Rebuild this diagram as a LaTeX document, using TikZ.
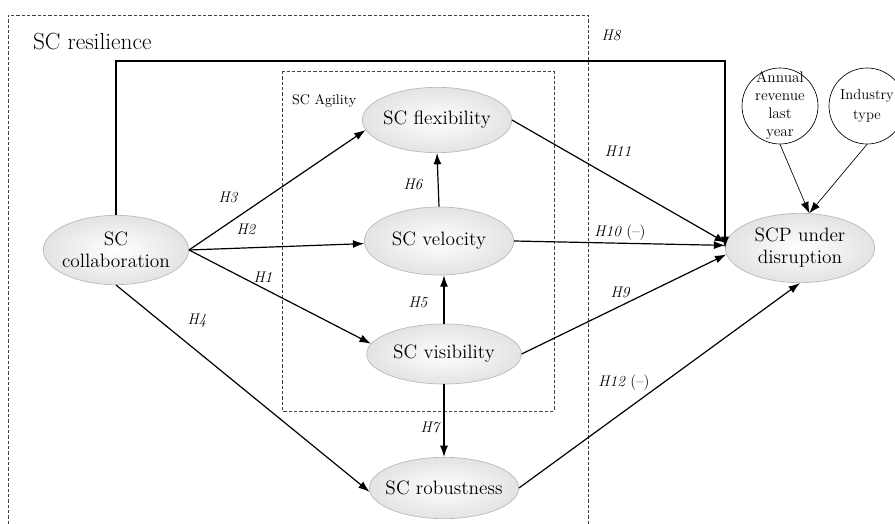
\documentclass[tikz,border=0pt]{standalone}
\usetikzlibrary{shapes.geometric,arrows.meta}
\begin{document}
\begin{tikzpicture}[->,>={Latex[length=8.5pt,width=6pt]},line width=0.9pt,x=0.75pt,y=-0.75pt]
    \tikzstyle{construct}=[ellipse,draw=gray!55,line width=0.5pt,inner color=white,outer color=gray!22,minimum width=112pt,minimum height=49pt,inner sep=0pt]
    \tikzstyle{control}=[circle,draw,line width=0.5pt,minimum size=57pt,inner sep=0pt]
    \tikzstyle{every label}=[align=center,font=\fontsize{14.5}{16.5}\selectfont]
    \tikzstyle{hyp}=[font=\fontsize{11.5}{13}\selectfont\itshape]
    \tikzstyle{frame}=[-,draw=black!75,line width=0.5pt,dash pattern=on 2.5pt off 1.5pt]

    \useasboundingbox (0,0) rectangle (895,524);

    % resilience and agility frames
    \draw[frame] (8,540) -- (8,15) -- (588,15) -- (588,540);
    \draw[frame] (282,71) rectangle (554,411);
    \node[anchor=west,font=\fontsize{17.5}{20}\selectfont] (res) at (28,42) {SC resilience};
    \node[anchor=west,font=\fontsize{10.5}{12}\selectfont] (agi) at (287,101) {SC Agility};

    \node[construct,minimum width=109pt,minimum height=52pt,label={center:SC\\collaboration}] (col) at (116,250) {};
    \node[construct,label=center:SC flexibility] (flex) at (437,120) {};
    \node[construct,minimum height=51pt,label=center:SC velocity] (velo) at (439,241) {};
    \node[construct,minimum width=116pt,minimum height=45pt,label=center:SC visibility] (visi) at (444,354) {};
    \node[construct,minimum height=46pt,label=center:SC robustness] (robu) at (444,488) {};
    \node[construct,minimum height=52pt,label={center:SCP under\\disruption}] (scp) at (800,248) {};

    % controls
    \node[control,label={[font=\fontsize{11.5}{13.5}\selectfont]center:Annual\\revenue\\last\\year}] (rev) at (780,106) {};
    \node[control,label={[font=\fontsize{11}{15.5}\selectfont]center:Industry\\type}] (ind) at (867,106) {};

    \draw (col.north) -- (col.north |- 0,61) -| (scp.west);
    \foreach \dst/\ang in {flex/188,velo/182,visi/172}
    \path (col.east) edge (\dst.\ang);
    \path (col.south) edge (robu.183);
    \path (velo.north) edge (flex.south);
    \path (visi.north) edge (visi.north |- velo.south);
    \path (visi.south) edge (robu.north);
    \path (flex.east) edge (scp.176) (velo.east) edge (scp.178) (visi.east) edge (scp.185) (robu.east) edge (scp.south);
    \path[line width=0.5pt] (rev.south) edge (scp.75) (ind.south) edge (scp.75);

    \foreach \h/\x/\y in {1/263/277,2/246/229,3/228/197,4/197/321,5/418/302,6/413/184,7/430/427,8/611/35,9/620/292,11/618/151}
    \node[hyp] (H-\h) at (\x,\y) {H\h};
    \node[hyp] (H-10) at (620,233) {H10 {\upshape(--)}};
    \node[hyp] (H-12) at (624,383) {H12 {\upshape(--)}};
  \end{tikzpicture}
\end{document}
